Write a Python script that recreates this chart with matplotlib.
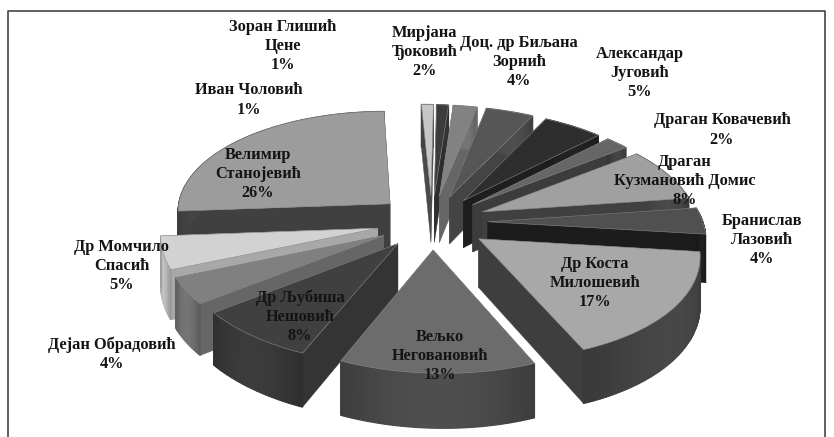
import numpy as np
import matplotlib
matplotlib.use("Agg")
import matplotlib.pyplot as plt

names = ["Иван Чоловић", "Зоран Глишић\nЦене", "Мирјана\nЂоковић", "Доц. др Биљана\nЗорнић",
         "Александар\nЈуговић", "Драган Ковачевић", "Драган\nКузмановић Домис", "Бранислав\nЛазовић",
         "Др Коста\nМилошевић", "Вељко\nНеговановић", "Др Љубиша\nНешовић", "Дејан Обрадовић",
         "Др Момчило\nСпасић", "Велимир\nСтанојевић"]
values = [1, 1, 2, 4, 5, 2, 8, 4, 17, 13, 8, 4, 5, 26]
top_colors = ["#c6c6c6", "#3c3c3c", "#828282", "#565656", "#2e2e2e", "#666666", "#a0a0a0",
              "#505050", "#a8a8a8", "#6c6c6c", "#404040", "#808080", "#d2d2d2", "#9c9c9c"]
side_colors = ["#4a4a4a", "#2e2e2e", "#666666", "#444444", "#1e1e1e", "#3c3c3c", "#404040",
               "#1c1c1c", "#3e3e3e", "#444444", "#343434", "#666666", "#a8a8a8", "#404040"]
label_pos = [(249, 100), (283, 46), (425, 52), (519, 62), (640, 73), (722, 130), (685, 181),
             (762, 240), (595, 283), (440, 356), (300, 317), (112, 354), (122, 266), (258, 174)]

CX, CY = 432, 222
RX, RY = 215, 105
HEIGHT = 48
PERSP = 0.10
EXPL = 0.26
START = 90.5
SHEAR = 9


def project(X, Y, Z):
    X, Y, Z = np.asarray(X), np.asarray(Y), np.asarray(Z)
    d = 1 + PERSP * Y
    return CX + (RX * X - SHEAR * Y) / d, CY - (RY * Y + HEIGHT * (Z - 1)) / d


fig = plt.figure(figsize=(8.34, 4.37), dpi=100, facecolor="white")
ax = fig.add_axes([0, 0, 1, 1])
ax.set_xlim(0, 834)
ax.set_ylim(437, 0)
ax.axis("off")
ax.plot([8, 8, 825, 825], [437, 11, 11, 437], color="#444444", lw=1.2)

edges = START - np.concatenate([[0], np.cumsum(values)]) * 3.6
slices = []
for i in range(len(values)):
    a0, a1 = np.radians(edges[i]), np.radians(edges[i + 1])
    mid = (a0 + a1) / 2
    slices.append((np.sin(mid), i, a0, a1, mid))


def shade(col, factor):
    rgb = np.array(matplotlib.colors.to_rgb(col)) * factor
    return tuple(np.clip(rgb, 0, 1))


for _, i, a0, a1, mid in sorted(slices, key=lambda s: -s[0]):
    ox, oy = EXPL * np.cos(mid), EXPL * np.sin(mid)
    th = np.linspace(a0, a1, max(4, int(values[i] * 4)))
    rx, ry = ox + np.cos(th), oy + np.sin(th)
    side = side_colors[i]
    walls = [(np.cos(a0), np.sin(a0)), (np.cos(a1), np.sin(a1))]
    walls.sort(key=lambda w: -w[1])
    for ux, uy in walls:
        qx = np.array([ox, ox + ux, ox + ux, ox])
        qy = np.array([oy, oy + uy, oy + uy, oy])
        sx, sy = project(qx, qy, np.array([1, 1, 0, 0]))
        ax.fill(sx, sy, color=side, lw=0.3, zorder=2)
    for j in range(len(th) - 1):
        qx = np.array([rx[j], rx[j + 1], rx[j + 1], rx[j]])
        qy = np.array([ry[j], ry[j + 1], ry[j + 1], ry[j]])
        sx, sy = project(qx, qy, np.array([1, 1, 0, 0]))
        f = 0.9 + 0.25 * np.sin((th[j] - a1) / (a0 - a1) * np.pi)
        ax.fill(sx, sy, color=shade(side, f), lw=0.9, zorder=2)
    sx, sy = project(np.r_[ox, rx], np.r_[oy, ry], np.ones(len(rx) + 1))
    ax.fill(sx, sy, facecolor=top_colors[i], edgecolor="#8a8a8a", lw=0.4, zorder=2)

for name, v, (x, y) in zip(names, values, label_pos):
    ax.text(x, y, f"{name}\n{v}%", ha="center", va="center", multialignment="center",
            family="Liberation Serif", weight="bold", fontsize=11.8, linespacing=1.25,
            color="#141414", zorder=5)

fig.savefig("out.png", dpi=100, facecolor="white")
